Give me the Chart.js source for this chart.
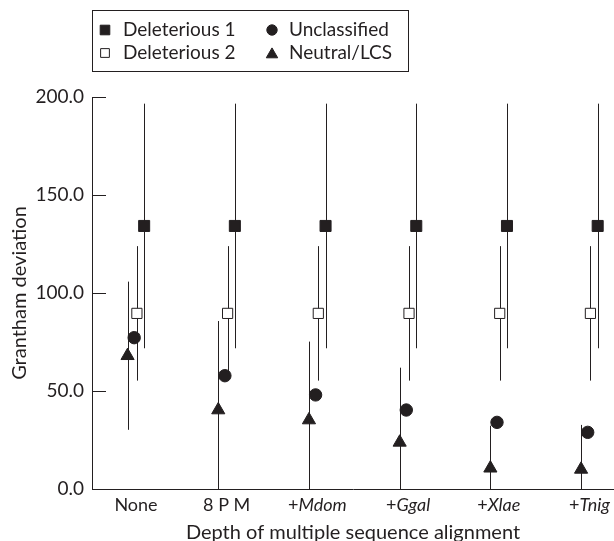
<!DOCTYPE html>
<html>
<head>
<meta charset="utf-8">
<script src="https://cdn.jsdelivr.net/npm/chart.js@4/dist/chart.umd.min.js"></script>
<style>
html, body { margin: 0; padding: 0; background: #fff; overflow: hidden; }
#chartBox { position: relative; width: 614px; height: 541px; }
#myChart { display: block; }
</style>
</head>
<body>
<div id="chartBox"><canvas id="myChart"></canvas></div>
<script>
// data
var categories = ['None', '8 P M', '+Mdom', '+Ggal', '+Xlae', '+Tnig'];
var yTicks = [0, 50, 100, 150, 200];
var deleterious1 = [134.2, 134.2, 134.2, 134.2, 134.2, 134.2];
var deleterious1Err = [62.4, 62.4, 62.4, 62.4, 62.4, 62.4];
var deleterious2 = [89.6, 89.6, 89.6, 89.6, 89.6, 89.6];
var deleterious2Err = [34.3, 34.3, 34.3, 34.3, 34.3, 34.3];
var unclassified = [77.2, 57.8, 48.0, 40.3, 34.0, 28.9];
var neutral = [68.0, 40.3, 35.2, 23.8, 10.6, 10.0];
var neutralErr = [37.8, 45.4, 40.0, 38.1, 21.7, 22.7];

var inkColor = '#231f20';
var fontName = 'Lato';

// x = category index + small offset so the markers sit side by side
function toPoints(values, offset){
	return values.map(function(v, i){ return {x: i + offset, y: v}; });
}

var datasets = [
	{ label: 'Deleterious 1', data: toPoints(deleterious1, 0.09), errors: deleterious1Err,
	  pointStyle: 'rect', pointRadius: 7.8, backgroundColor: inkColor, borderColor: inkColor, borderWidth: 1,
	  legendX: 105, legendY: 30 },
	{ label: 'Deleterious 2', data: toPoints(deleterious2, 0.01), errors: deleterious2Err,
	  pointStyle: 'rect', pointRadius: 7.2, backgroundColor: '#fff', borderColor: inkColor, borderWidth: 1,
	  legendX: 105, legendY: 53 },
	{ label: 'Unclassified', data: toPoints(unclassified, -0.02),
	  pointStyle: 'circle', pointRadius: 6.2, backgroundColor: inkColor, borderColor: inkColor, borderWidth: 1,
	  legendX: 272, legendY: 30 },
	{ label: 'Neutral/LCS', data: toPoints(neutral, -0.093), errors: neutralErr,
	  pointStyle: 'triangle', pointRadius: 7.6, backgroundColor: inkColor, borderColor: inkColor, borderWidth: 1,
	  legendX: 272, legendY: 53 }
];

// error bars, drawn under the markers
var errorBarPlugin = {
	id: 'errorBars',
	beforeDatasetsDraw: function(chart){
		var ctx = chart.ctx, area = chart.chartArea, yScale = chart.scales.y;
		ctx.save();
		ctx.beginPath();
		ctx.rect(area.left, area.top, area.right - area.left, area.bottom - area.top);
		ctx.clip();
		ctx.strokeStyle = inkColor;
		ctx.lineWidth = 1;
		chart.data.datasets.forEach(function(ds, di){
			if(!ds.errors) return;
			var meta = chart.getDatasetMeta(di);
			meta.data.forEach(function(pt, i){
				var v = ds.data[i].y, e = ds.errors[i];
				var x = Math.round(pt.x) + 0.5;
				ctx.beginPath();
				ctx.moveTo(x, yScale.getPixelForValue(v + e));
				ctx.lineTo(x, yScale.getPixelForValue(v - e));
				ctx.stroke();
			});
		});
		ctx.restore();
	}
};

// inner tick marks, x labels (with italic species names) and the boxed legend
var decorPlugin = {
	id: 'decor',
	afterDraw: function(chart){
		var ctx = chart.ctx, area = chart.chartArea;
		var xScale = chart.scales.x, yScale = chart.scales.y;
		ctx.save();
		ctx.strokeStyle = inkColor;
		ctx.lineWidth = 1;
		yTicks.forEach(function(t){
			var y = Math.round(yScale.getPixelForValue(t)) + 0.5;
			ctx.beginPath();
			ctx.moveTo(area.left, y);
			ctx.lineTo(area.left + 14, y);
			ctx.stroke();
		});

		ctx.fillStyle = inkColor;
		ctx.textBaseline = 'middle';
		categories.forEach(function(c, i){
			var cx = xScale.getPixelForValue(i);
			var pre = '', name = c;
			if(c.charAt(0) === '+'){ pre = '+'; name = c.substring(1); }
			ctx.font = '18px ' + fontName;
			var w1 = ctx.measureText(pre).width;
			ctx.font = (pre ? 'italic ' : '') + '18px ' + fontName;
			var w2 = ctx.measureText(name).width;
			var x0 = cx - (w1 + w2) / 2;
			ctx.textAlign = 'left';
			ctx.font = '18px ' + fontName;
			ctx.fillText(pre, x0, 505);
			ctx.font = (pre ? 'italic ' : '') + '18px ' + fontName;
			ctx.fillText(name, x0 + w1, 505);
		});

		// legend
		ctx.strokeRect(92.5, 10.5, 316, 61);
		chart.data.datasets.forEach(function(ds){
			ctx.fillStyle = ds.backgroundColor;
			ctx.strokeStyle = ds.borderColor;
			ctx.lineWidth = ds.borderWidth;
			Chart.helpers.drawPoint(ctx, {pointStyle: ds.pointStyle, radius: ds.pointRadius - 1, rotation: 0, borderWidth: ds.borderWidth},
				ds.legendX, ds.legendY + (ds.pointStyle === 'triangle' ? 1.5 : 0));
			ctx.fillStyle = inkColor;
			ctx.font = '19px ' + fontName;
			ctx.textAlign = 'left';
			ctx.fillText(ds.label, ds.legendX < 200 ? 123 : 289, ds.legendY);
		});
		ctx.restore();
	}
};

function makeChart(){
	var ctx = document.getElementById('myChart').getContext('2d');
	var myChart = new Chart(ctx, {
		type: 'scatter',
		data: { datasets: datasets },
		options: {
			responsive: true,
			maintainAspectRatio: false,
			animation: false,
			events: [],
			layout: { autoPadding: false, padding: { top: 97, left: 0, right: 0, bottom: 0 } },
			plugins: { legend: { display: false }, tooltip: { enabled: false } },
			scales: {
				x: {
					type: 'linear',
					min: -0.485,
					max: 5.27,
					afterFit: function(scale){ scale.height = 52; },
					ticks: { display: false },
					grid: { display: false, drawTicks: false },
					border: { display: true, color: inkColor, width: 1 },
					title: { display: true, text: 'Depth of multiple sequence alignment', color: inkColor,
						font: { family: fontName, size: 20 }, padding: { top: 0, bottom: -4 } }
				},
				y: {
					min: 0,
					max: 200,
					afterFit: function(scale){ scale.width = 92; },
					afterBuildTicks: function(scale){
						scale.ticks = yTicks.map(function(v){ return {value: v}; });
					},
					ticks: { color: inkColor, padding: 8, font: { family: fontName, size: 19 },
						callback: function(v){ return v.toFixed(1); } },
					grid: { display: false, drawTicks: false },
					border: { display: true, color: inkColor, width: 1 },
					title: { display: true, text: 'Grantham deviation', color: inkColor,
						font: { family: fontName, size: 20 }, padding: { top: 7.5, bottom: 0 } }
				}
			}
		},
		plugins: [errorBarPlugin, decorPlugin]
	});
}

makeChart();
</script>
</body>
</html>
